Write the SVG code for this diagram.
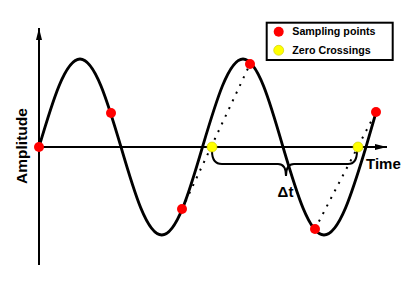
<svg xmlns="http://www.w3.org/2000/svg" width="415" height="294" viewBox="0 0 415 294">
  <style>
    .axis { stroke: #000; stroke-width: 2; fill: none; }
    .curve { stroke: #000; stroke-width: 2.8; fill: none; }
    .dots { stroke: #000; stroke-width: 2; fill: none; stroke-dasharray: 2 6.5; }
    .brace { stroke: #000; stroke-width: 2; fill: none; }
    .red { fill: #ff0000; }
    .yellow { fill: #ffff00; stroke: #c8c800; stroke-width: 0.6; }
    .lbl { font-family: "Liberation Sans", Arial, sans-serif; font-weight: bold; fill: #000; }
  </style>
  <defs>
    <marker id="arrow" markerUnits="userSpaceOnUse" markerWidth="12" markerHeight="6" refX="12" refY="3" orient="auto">
      <path d="M0,0 L12,3 L0,6 z" fill="#000"/>
    </marker>
  </defs>
  <rect width="415" height="294" fill="#fff"/>

  <g id="axes">
    <line class="axis" x1="39" y1="265" x2="39" y2="28" marker-end="url(#arrow)"/>
    <line class="axis" x1="39" y1="147" x2="387" y2="147" marker-end="url(#arrow)"/>
    <text class="lbl" x="366" y="169.3" font-size="15">Time</text>
    <text class="lbl" font-size="15.5" text-anchor="middle" transform="translate(27.3,146) rotate(-90)">Amplitude</text>
  </g>

  <g id="connectors">
    <path id="signal" class="curve" d="M39,147 C52.36,101.96 65.16,59 80,59 C94.84,59 107.64,101.96 121,147 C134.2,192.04 146.9,235 161.8,235 C176.6,235 189.3,192.04 202.5,147 C215.9,101.96 228.6,59 243,59 C257.6,59 270,101.96 283,147 C296.36,192.04 309.16,235 324,235 C339.2,235 352.32,192.04 366,147 Q370.6,131 376,112.5"/>
    <line class="dots" x1="182" y1="209" x2="250" y2="64"/>
    <line class="dots" x1="315" y1="229" x2="376" y2="112"/>
    <path id="brace" class="brace" d="M212,151 Q212,164 222,164 L278,164 Q286,164 286,176 Q286,164 294,164 L348,164 Q357,164 357,151"/>
    <text class="lbl" x="285.5" y="196.5" font-size="15" text-anchor="middle">Δt</text>
  </g>

  <g id="sampling-points">
    <circle class="red" cx="39" cy="147" r="5"/>
    <circle class="red" cx="111" cy="113" r="5"/>
    <circle class="red" cx="182" cy="209" r="5"/>
    <circle class="red" cx="250" cy="64" r="5"/>
    <circle class="red" cx="315" cy="229" r="5"/>
    <circle class="red" cx="376" cy="112" r="5"/>
  </g>

  <g id="zero-crossings">
    <circle class="yellow" cx="212" cy="147" r="5"/>
    <circle class="yellow" cx="358" cy="147" r="5"/>
  </g>

  <g id="legend">
    <rect x="266.7" y="22.7" width="126" height="37.3" fill="#fff" stroke="#000" stroke-width="2"/>
    <circle class="red" cx="278.7" cy="31.7" r="5"/>
    <circle class="yellow" cx="278.7" cy="50.3" r="5"/>
    <text class="lbl" x="292.3" y="35.2" font-size="10.7">Sampling points</text>
    <text class="lbl" x="292.3" y="53.8" font-size="10.7">Zero Crossings</text>
  </g>
</svg>
